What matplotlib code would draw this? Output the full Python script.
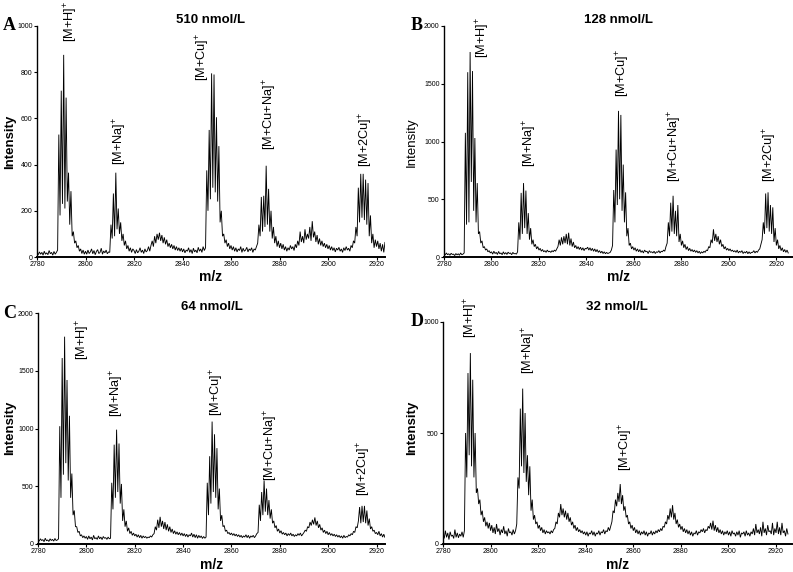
import numpy as np
import matplotlib
matplotlib.use("Agg")
import matplotlib.pyplot as plt

plt.rcParams['font.family'] = ['Liberation Sans', 'DejaVu Sans']
plt.rcParams['mathtext.fontset'] = 'custom'
plt.rcParams['mathtext.rm'] = 'Liberation Sans'
plt.rcParams['mathtext.it'] = 'Liberation Sans:italic'
plt.rcParams['mathtext.bf'] = 'Liberation Sans:bold'

# ---- data ----
mz_start = 2780.0
mz_step = 0.5   # sampling of the spectra (m/z 2780 ... 2925)

# Panel A: 510 nmol/L
intensity_A = [
    18, 10, 22, 12, 20, 8, 25, 12, 18, 10, 28, 14, 20, 8, 24, 12, 20, 30, 530, 180,
    720, 230, 875, 210, 690, 240, 365, 140, 285, 90, 110, 60, 70, 40, 50, 25, 35, 15, 30, 12,
    25, 12, 30, 15, 22, 35, 14, 28, 10, 24, 32, 15, 20, 38, 12, 26, 18, 30, 14, 22,
    20, 140, 80, 275, 90, 365, 120, 210, 100, 150, 70, 100, 50, 70, 35, 50, 25, 40, 20, 35,
    28, 15, 32, 18, 25, 40, 20, 30, 15, 35, 22, 28, 45, 25, 50, 70, 45, 90, 60, 100,
    75, 105, 70, 95, 60, 85, 55, 75, 45, 60, 40, 55, 35, 50, 30, 45, 28, 40, 25, 38,
    22, 35, 18, 30, 25, 40, 20, 32, 15, 38, 22, 30, 18, 42, 25, 35, 20, 45, 28, 40,
    375, 200, 550, 250, 795, 300, 790, 280, 605, 240, 480, 150, 200, 90, 100, 60, 75, 45, 60, 35,
    50, 30, 45, 25, 40, 22, 35, 28, 45, 20, 38, 25, 30, 42, 22, 35, 28, 40, 20, 35,
    30, 45, 60, 140, 90, 260, 110, 265, 130, 395, 140, 295, 110, 200, 80, 130, 60, 90, 45, 70,
    40, 60, 35, 55, 30, 45, 25, 40, 30, 50, 35, 45, 28, 55, 40, 70, 50, 110, 65, 90,
    60, 120, 75, 100, 80, 130, 70, 155, 85, 110, 65, 95, 55, 80, 50, 70, 45, 60, 40, 55,
    35, 50, 30, 45, 28, 40, 22, 38, 30, 42, 25, 35, 20, 40, 28, 45, 30, 38, 25, 50,
    40, 70, 60, 130, 90, 300, 150, 360, 170, 360, 160, 335, 140, 320, 90, 180, 60, 100, 40, 75,
    45, 70, 35, 60, 25, 55, 20, 65, 30, 45, 20,
]

# Panel B: 128 nmol/L
intensity_B = [
    30, 18, 35, 20, 28, 15, 32, 22, 25, 12, 30, 18, 28, 15, 35, 20, 25, 35, 1075, 280,
    1600, 300, 1775, 650, 1610, 400, 1030, 300, 640, 200, 220, 120, 140, 80, 90, 60, 70, 45, 55, 35,
    45, 25, 50, 30, 40, 22, 48, 28, 35, 20, 45, 25, 38, 22, 42, 30, 35, 20, 40, 28,
    30, 25, 45, 300, 150, 555, 200, 640, 250, 575, 200, 380, 150, 250, 110, 150, 90, 110, 70, 90,
    60, 75, 50, 65, 45, 55, 40, 60, 45, 50, 40, 55, 45, 60, 50, 70, 90, 150, 100, 170,
    110, 180, 120, 200, 110, 210, 100, 160, 90, 130, 80, 100, 70, 90, 65, 85, 60, 80, 55, 75,
    70, 85, 60, 80, 55, 75, 50, 70, 45, 65, 40, 55, 35, 50, 30, 45, 28, 40, 30, 35,
    40, 60, 100, 580, 300, 930, 450, 1265, 500, 1230, 400, 800, 300, 560, 180, 250, 100, 120, 70, 90,
    60, 80, 50, 70, 45, 65, 40, 55, 35, 60, 45, 50, 30, 55, 40, 45, 35, 50, 30, 45,
    40, 55, 35, 50, 45, 60, 50, 90, 120, 300, 180, 470, 220, 530, 200, 400, 180, 450, 130, 200,
    100, 140, 80, 110, 65, 90, 55, 75, 50, 65, 45, 60, 40, 55, 35, 50, 30, 45, 35, 50,
    40, 60, 55, 90, 80, 150, 120, 240, 140, 200, 130, 180, 110, 150, 90, 110, 70, 90, 60, 75,
    55, 70, 50, 60, 45, 55, 40, 60, 35, 50, 40, 55, 30, 45, 35, 50, 28, 45, 30, 40,
    40, 55, 35, 50, 40, 60, 70, 110, 150, 300, 200, 550, 250, 560, 220, 450, 200, 430, 130, 250,
    100, 150, 70, 100, 55, 80, 45, 65, 40, 60, 35,
]

# Panel C: 64 nmol/L
intensity_C = [
    40, 25, 45, 30, 38, 20, 50, 28, 35, 22, 45, 30, 40, 25, 48, 30, 35, 45, 1020, 400,
    1610, 600, 1795, 700, 1420, 550, 1110, 400, 610, 250, 290, 150, 150, 100, 110, 70, 80, 55, 70, 50,
    65, 40, 70, 45, 60, 35, 75, 45, 55, 40, 70, 45, 60, 38, 65, 50, 55, 40, 60, 45,
    50, 530, 300, 860, 400, 990, 450, 870, 350, 520, 200, 300, 150, 200, 110, 140, 90, 110, 75, 95,
    70, 85, 60, 80, 55, 75, 50, 70, 55, 65, 50, 60, 55, 70, 60, 80, 90, 150, 120, 210,
    140, 235, 150, 200, 130, 190, 120, 170, 110, 150, 100, 130, 90, 115, 85, 105, 80, 100, 75, 95,
    70, 90, 65, 85, 60, 80, 70, 95, 60, 85, 55, 80, 50, 75, 55, 70, 48, 65, 50, 60,
    530, 250, 760, 350, 1060, 450, 950, 400, 830, 300, 480, 200, 250, 150, 160, 110, 120, 90, 100, 80,
    95, 75, 90, 70, 85, 65, 80, 60, 75, 55, 70, 60, 80, 55, 75, 50, 70, 60, 75, 55,
    70, 90, 100, 340, 200, 450, 250, 550, 280, 480, 250, 380, 220, 300, 180, 200, 140, 160, 110, 130,
    95, 115, 85, 100, 80, 95, 70, 90, 75, 95, 70, 85, 65, 80, 70, 90, 75, 95, 70, 85,
    100, 120, 110, 150, 140, 190, 160, 210, 170, 230, 160, 200, 140, 170, 120, 140, 100, 120, 90, 110,
    80, 100, 75, 90, 70, 85, 65, 80, 60, 75, 55, 70, 50, 75, 55, 65, 60, 80, 70, 90,
    80, 110, 100, 150, 140, 200, 320, 180, 330, 190, 330, 180, 290, 160, 220, 130, 150, 110, 120, 90,
    100, 80, 110, 70, 90, 60, 85, 55, 80, 50, 65,
]

# Panel D: 32 nmol/L
intensity_D = [
    45, 25, 60, 30, 50, 20, 55, 35, 40, 25, 65, 30, 50, 28, 45, 35, 55, 30, 60, 500,
    300, 770, 400, 860, 350, 740, 300, 500, 230, 250, 180, 200, 130, 150, 100, 120, 80, 100, 70, 95,
    60, 85, 50, 75, 45, 90, 55, 70, 40, 65, 50, 80, 45, 60, 35, 70, 50, 55, 40, 65,
    45, 60, 90, 300, 250, 610, 350, 700, 320, 590, 280, 400, 220, 350, 150, 200, 110, 130, 90, 100,
    70, 85, 60, 75, 50, 65, 45, 60, 50, 55, 45, 60, 50, 65, 70, 100, 90, 140, 120, 180,
    130, 160, 120, 150, 110, 140, 100, 120, 85, 100, 70, 85, 60, 75, 55, 65, 50, 60, 45, 55,
    40, 55, 35, 50, 45, 60, 40, 55, 35, 50, 45, 60, 40, 55, 50, 65, 45, 60, 55, 75,
    60, 80, 100, 150, 140, 200, 170, 230, 190, 270, 180, 220, 150, 170, 120, 130, 90, 100, 70, 85,
    60, 75, 50, 65, 45, 60, 40, 55, 45, 60, 40, 55, 35, 50, 45, 60, 40, 55, 45, 60,
    50, 65, 55, 70, 60, 80, 75, 100, 90, 130, 110, 160, 120, 175, 110, 140, 90, 110, 75, 90,
    65, 80, 55, 70, 50, 65, 45, 60, 40, 55, 35, 50, 45, 60, 40, 55, 50, 65, 55, 70,
    50, 65, 60, 80, 70, 95, 65, 105, 60, 85, 55, 75, 50, 65, 45, 60, 40, 55, 45, 60,
    40, 55, 35, 60, 45, 50, 35, 55, 40, 60, 30, 50, 45, 55, 35, 60, 40, 50, 35, 55,
    45, 70, 40, 90, 50, 65, 45, 75, 35, 100, 50, 70, 40, 85, 55, 60, 45, 95, 40, 70,
    50, 100, 45, 75, 40, 95, 50, 60, 35, 70, 45,
]

panel_letters = ["A", "B", "C", "D"]
panel_titles = ["510 nmol/L", "128 nmol/L", "64 nmol/L", "32 nmol/L"]
y_ticks_A = [0, 200, 400, 600, 800, 1000]
y_ticks_B = [0, 500, 1000, 1500, 2000]
y_ticks_C = [0, 500, 1000, 1500, 2000]
y_ticks_D = [0, 500, 1000]
x_ticks = [2780, 2800, 2820, 2840, 2860, 2880, 2900, 2920]

ion_labels = ["[M+H]", "[M+Na]", "[M+Cu]", "[M+Cu+Na]", "[M+2Cu]"]
# label anchor (m/z, intensity) per panel
label_mz_A = [2794.0, 2814.3, 2848.3, 2876.0, 2915.5]
label_y_A = [930, 398, 761, 463, 391]
label_mz_B = [2796.4, 2816.1, 2855.4, 2877.2, 2917.2]
label_y_B = [1727, 783, 1387, 653, 653]
label_mz_C = [2798.6, 2812.6, 2854.0, 2876.3, 2914.6]
label_y_C = [1596, 1097, 1105, 543, 413]
label_mz_D = [2791.9, 2816.1, 2856.8]
label_y_D = [930, 768, 329]

# ---- layout ----
W, H = 793, 572
fig = plt.figure(figsize=(W / 100, H / 100), dpi=100)

def fx(px):
    return px / W

def fy(py):
    return 1 - py / H

panels = [
    dict(data=intensity_A, rect=(37, 26, 385, 257), xmax=2923.5, ylim=1000, yticks=y_ticks_A,
         lab_mz=label_mz_A, lab_y=label_y_A, ylab_bold=True, ylab_xy=(10, 142), letter_xy=(9.5, 26),
         title_y=20, xlab_y=277),
    dict(data=intensity_B, rect=(444, 26, 792.5, 257), xmax=2926.8, ylim=2000, yticks=y_ticks_B,
         lab_mz=label_mz_B, lab_y=label_y_B, ylab_bold=False, ylab_xy=(412, 142), letter_xy=(417, 26),
         title_y=20, xlab_y=277),
    dict(data=intensity_C, rect=(38, 313, 385, 544), xmax=2923.5, ylim=2000, yticks=y_ticks_C,
         lab_mz=label_mz_C, lab_y=label_y_C, ylab_bold=True, ylab_xy=(10, 428), letter_xy=(9.5, 313),
         title_y=307, xlab_y=565),
    dict(data=intensity_D, rect=(443, 322, 791.5, 544), xmax=2926.5, ylim=1000, yticks=y_ticks_D,
         lab_mz=label_mz_D, lab_y=label_y_D, ylab_bold=True, ylab_xy=(412, 428), letter_xy=(417, 322),
         title_y=307, xlab_y=565),
]

for i, p in enumerate(panels):
    x0, y0, x1, y1 = p["rect"]
    ax = fig.add_axes([fx(x0), fy(y1), fx(x1 - x0), (y1 - y0) / H])
    vals = np.array(p["data"], dtype=float)
    mz = mz_start + mz_step * np.arange(len(vals))
    ax.plot(mz, vals, color="black", lw=0.65, solid_joinstyle="miter")
    ax.set_xlim(2780, p["xmax"])
    ax.set_ylim(0, p["ylim"])
    ax.set_xticks(x_ticks)
    ax.set_yticks(p["yticks"])
    ax.tick_params(axis="both", labelsize=5, length=2.2, width=0.8, pad=1, direction="out")
    for s in ("top", "right"):
        ax.spines[s].set_visible(False)
    ax.spines["left"].set_linewidth(1.0)
    ax.spines["bottom"].set_linewidth(1.4)
    ax.patch.set_alpha(0)

    # ion labels
    for name, lx, ly in zip(ion_labels, p["lab_mz"], p["lab_y"]):
        ax.text(lx, ly, name + r"$^{\mathrm{+}}$", rotation=90, ha="center", va="bottom",
                fontsize=9.2, clip_on=False)

    cx = (x0 + x1) / 2
    fig.text(fx(cx), fy(p["title_y"]), panel_titles[i], ha="center", va="center",
             fontsize=9.5, fontweight="bold")
    fig.text(fx(cx), fy(p["xlab_y"]), "m/z", ha="center", va="center",
             fontsize=10, fontweight="bold")
    fig.text(fx(p["ylab_xy"][0]), fy(p["ylab_xy"][1]), "Intensity", rotation=90,
             ha="center", va="center", fontsize=9.5,
             fontweight="bold" if p["ylab_bold"] else "normal")
    fig.text(fx(p["letter_xy"][0]), fy(p["letter_xy"][1]), panel_letters[i], ha="center",
             va="center", fontsize=13, fontweight="bold", family="Liberation Serif")

fig.savefig("out.png", dpi=100)
